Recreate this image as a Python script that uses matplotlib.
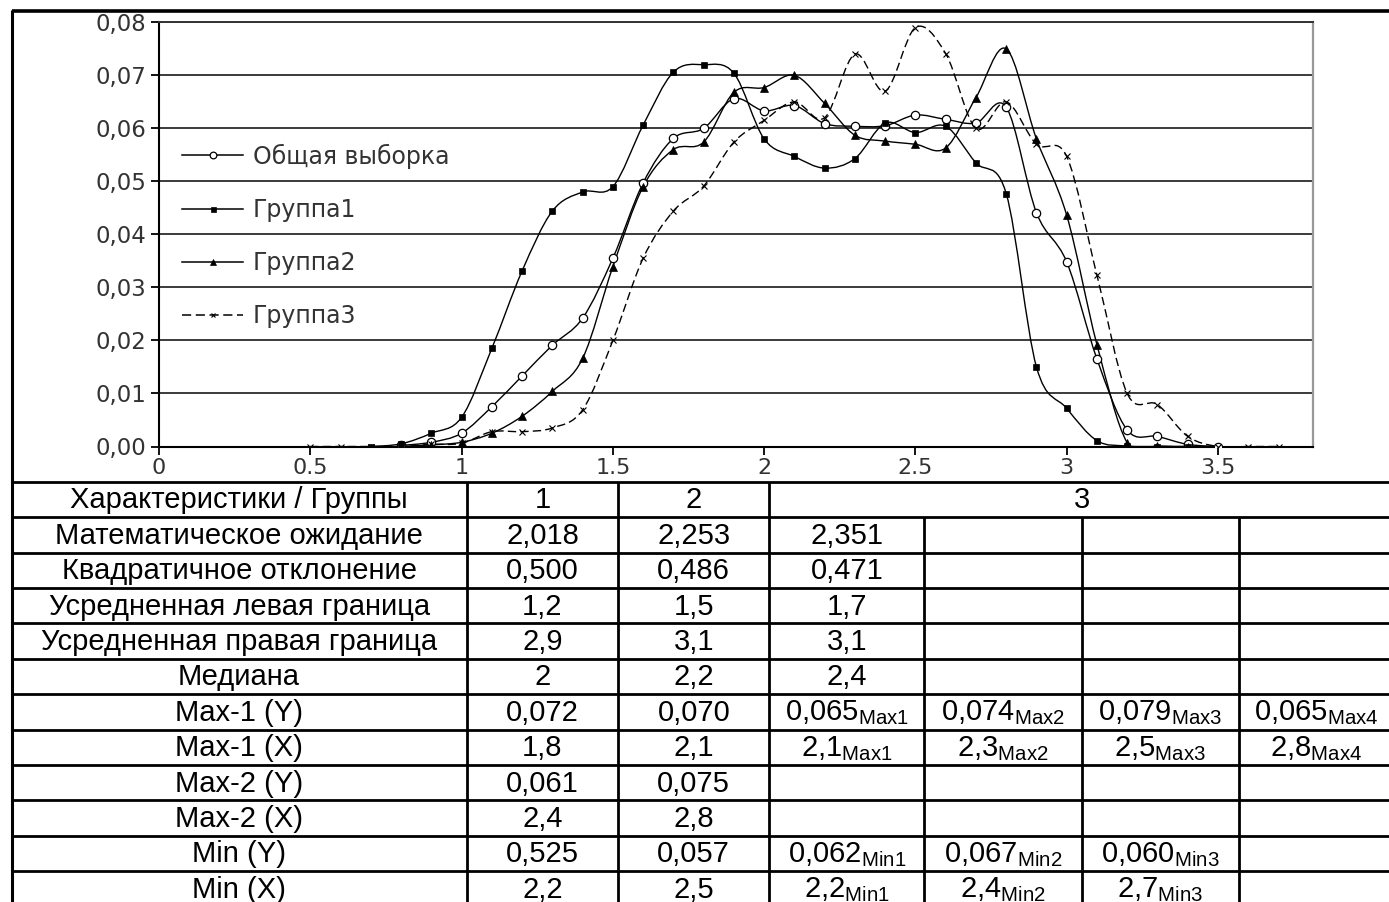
import numpy as np
import matplotlib
matplotlib.use("Agg")
import matplotlib.pyplot as plt
from matplotlib.path import Path
from matplotlib.patches import PathPatch
from matplotlib.lines import Line2D
from matplotlib.ticker import FuncFormatter, MultipleLocator

plt.rcParams['font.family'] = ['Liberation Sans', 'DejaVu Sans']
plt.rcParams['mathtext.fontset'] = 'custom'
plt.rcParams['mathtext.rm'] = 'Liberation Sans'
plt.rcParams['mathtext.it'] = 'Liberation Sans:italic'

# --- distribution curves (x = value, y = share) ---
x_total = [0.8, 0.9, 1.0, 1.1, 1.2, 1.3, 1.4, 1.5, 1.6, 1.7, 1.8, 1.9, 2.0, 2.1, 2.2,
           2.3, 2.4, 2.5, 2.6, 2.7, 2.8, 2.9, 3.0, 3.1, 3.2, 3.3, 3.4, 3.5]
y_total = [0.0002, 0.0008, 0.0025, 0.0075, 0.0133, 0.0191, 0.0242, 0.0355, 0.0497, 0.0581,
           0.0600, 0.0656, 0.0633, 0.0643, 0.0609, 0.0604, 0.0605, 0.0625, 0.0617, 0.0610,
           0.0640, 0.0441, 0.0348, 0.0165, 0.0031, 0.0019, 0.0004, 0.0]

x_g1 = [0.7, 0.8, 0.9, 1.0, 1.1, 1.2, 1.3, 1.4, 1.5, 1.6, 1.7, 1.8, 1.9, 2.0, 2.1,
        2.2, 2.3, 2.4, 2.5, 2.6, 2.7, 2.8, 2.9, 3.0, 3.1, 3.2, 3.3, 3.4]
y_g1 = [0.0, 0.0005, 0.0025, 0.0055, 0.0185, 0.0331, 0.0444, 0.0480, 0.0490, 0.0606,
        0.0706, 0.0720, 0.0704, 0.0580, 0.0547, 0.0525, 0.0543, 0.0610, 0.0592, 0.0604,
        0.0535, 0.0477, 0.0150, 0.0072, 0.0011, 0.0001, 0.0, 0.0]

x_g2 = [0.8, 0.9, 1.0, 1.1, 1.2, 1.3, 1.4, 1.5, 1.6, 1.7, 1.8, 1.9, 2.0, 2.1, 2.2,
        2.3, 2.4, 2.5, 2.6, 2.7, 2.8, 2.9, 3.0, 3.1, 3.2, 3.3, 3.4]
y_g2 = [0.0, 0.0003, 0.0008, 0.0025, 0.0057, 0.0104, 0.0166, 0.0339, 0.0490, 0.0560,
        0.0574, 0.0668, 0.0677, 0.0700, 0.0647, 0.0587, 0.0576, 0.0570, 0.0563, 0.0658,
        0.0750, 0.0580, 0.0436, 0.0192, 0.0007, 0.0001, 0.0]

x_g3 = [0.5, 0.6, 0.7, 0.8, 0.9, 1.0, 1.1, 1.2, 1.3, 1.4, 1.5, 1.6, 1.7, 1.8, 1.9,
        2.0, 2.1, 2.2, 2.3, 2.4, 2.5, 2.6, 2.7, 2.8, 2.9, 3.0, 3.1, 3.2, 3.3, 3.4,
        3.5, 3.6, 3.7]
y_g3 = [0.0, 0.0, 0.0, 0.0, 0.0004, 0.0006, 0.0028, 0.0028, 0.0035, 0.0069, 0.0200,
        0.0355, 0.0444, 0.0491, 0.0574, 0.0615, 0.0650, 0.0620, 0.0740, 0.0670, 0.0790,
        0.0741, 0.0600, 0.0650, 0.0570, 0.0547, 0.0323, 0.0100, 0.0079, 0.0019, 0.0,
        0.0, 0.0]

series_names = ["Общая выборка", "Группа1", "Группа2", "Группа3"]

# --- characteristics table ---
row_labels = ["Характеристики / Группы", "Математическое ожидание", "Квадратичное отклонение",
              "Усредненная левая граница", "Усредненная правая граница", "Медиана",
              "Max-1 (Y)", "Max-1 (X)", "Max-2 (Y)", "Max-2 (X)", "Min (Y)", "Min (X)"]
group_headers = ["1", "2", "3"]
col_g1 = ["2,018", "0,500", "1,2", "2,9", "2", "0,072", "1,8", "0,061", "2,4", "0,525", "2,2"]
col_g2 = ["2,253", "0,486", "1,5", "3,1", "2,2", "0,070", "2,1", "0,075", "2,8", "0,057", "2,5"]
cols_g3 = [
    ["2,351", "", "", ""],
    ["0,471", "", "", ""],
    ["1,7", "", "", ""],
    ["3,1", "", "", ""],
    ["2,4", "", "", ""],
    ["0,065|Max1", "0,074|Max2", "0,079|Max3", "0,065|Max4"],
    ["2,1|Max1", "2,3|Max2", "2,5|Max3", "2,8|Max4"],
    ["", "", "", ""],
    ["", "", "", ""],
    ["0,062|Min1", "0,067|Min2", "0,060|Min3", ""],
    ["2,2|Min1", "2,4|Min2", "2,7|Min3", ""],
]


def smooth_path(xs, ys):
    """Bezier path through the points (Catmull-Rom style smoothing)."""
    pts = np.column_stack([xs, ys])
    n = len(pts)
    verts = [pts[0]]
    codes = [Path.MOVETO]
    for i in range(n - 1):
        p0 = pts[max(i - 1, 0)]
        p1 = pts[i]
        p2 = pts[i + 1]
        p3 = pts[min(i + 2, n - 1)]
        verts += [p1 + (p2 - p0) / 6, p2 - (p3 - p1) / 6, p2]
        codes += [Path.CURVE4] * 3
    return Path(verts, codes)


W, H = 1389, 902
fig = plt.figure(figsize=(W / 100, H / 100), dpi=100)

# table / frame layer in pixel coordinates
tax = fig.add_axes([0, 0, 1, 1])
tax.set_xlim(0, W)
tax.set_ylim(H, 0)
tax.set_axis_off()

# chart
ax = fig.add_axes([159 / W, 1 - 446.5 / H, (1313 - 159) / W, (446.5 - 22.3) / H])
ax.set_xlim(0, 3.814)
ax.set_ylim(0, 0.08)

styles = [
    dict(marker='o', ms=6, mfc='white', mec='black', mew=0.9, ls='-'),
    dict(marker='s', ms=4.5, mfc='black', mec='black', mew=0.5, ls='-'),
    dict(marker='^', ms=5.5, mfc='black', mec='black', mew=0.5, ls='-'),
    dict(marker='x', ms=4, mfc='black', mec='black', mew=0.8, ls=(0, (6, 3))),
]
data = [(x_total, y_total), (x_g1, y_g1), (x_g2, y_g2), (x_g3, y_g3)]

handles = []
for (xs, ys), st, name in zip(data, styles, series_names):
    ax.add_patch(PathPatch(smooth_path(xs, ys), facecolor='none', edgecolor='black',
                           lw=1.0, ls=st['ls'], zorder=3))
    ax.plot(xs, ys, ls='none', marker=st['marker'], ms=st['ms'], mfc=st['mfc'],
            mec=st['mec'], mew=st['mew'], zorder=4)
    handles.append(Line2D([], [], color='black', lw=1.1, ls=st['ls'], marker=st['marker'],
                          ms=st['ms'] * 0.8, mfc=st['mfc'], mec=st['mec'], mew=st['mew']))

ax.yaxis.set_major_locator(MultipleLocator(0.01))
ax.xaxis.set_major_locator(MultipleLocator(0.5))
ax.yaxis.set_major_formatter(FuncFormatter(lambda v, _: f"{v:.2f}".replace('.', ',')))
ax.xaxis.set_major_formatter(FuncFormatter(lambda v, _: f"{v:g}"))
ax.grid(axis='y', color='#1a1a1a', lw=1.2)
ax.set_axisbelow(True)
for side in ['left', 'bottom']:
    ax.spines[side].set_color('black')
    ax.spines[side].set_linewidth(1.5)
ax.spines['top'].set_color('#333333')
ax.spines['top'].set_linewidth(1.4)
ax.spines['right'].set_color('#999999')
ax.spines['right'].set_linewidth(1.6)
ax.tick_params(axis='both', direction='out', length=6, width=1.3, color='black',
               labelsize=16, labelcolor='#333333')
ax.tick_params(axis='y', pad=3, labelsize=16.5)
ax.tick_params(axis='x', pad=2)
for lbl in ax.get_xticklabels() + ax.get_yticklabels():
    lbl.set_family('DejaVu Sans')

leg = ax.legend(handles, series_names, loc='upper left', bbox_to_anchor=(0.02, 0.714),
                frameon=False, prop={'family': 'DejaVu Sans', 'size': 17},
                handlelength=2.6, handletextpad=0.4, labelspacing=1.235,
                borderpad=0, borderaxespad=0)
for t in leg.get_texts():
    t.set_color('#333333')

# outer frame
tax.plot([11.5, W], [11, 11], color='black', lw=2.6, solid_capstyle='butt')
tax.plot([11.5, 11.5], [10, H], color='black', lw=2.2, solid_capstyle='butt')

# table grid
row_top = 481.7
row_h = 35.4
col_x = [11.5, 466.7, 618.3, 769.3, 924.3, 1081.7, 1239.0, 1394.0]
n_rows = len(row_labels)
for k in range(n_rows + 1):
    y = row_top + k * row_h
    tax.plot([11.5, W], [y, y], color='black', lw=2.0, solid_capstyle='butt')
for j, x in enumerate(col_x[1:-1], start=1):
    y_start = row_top if j <= 3 else row_top + row_h
    tax.plot([x, x], [y_start, row_top + n_rows * row_h], color='black', lw=2.0,
             solid_capstyle='butt')

fs = 21


def cell_text(x, y, s):
    if '|' in s:
        val, sub = s.split('|')
        s = val + r'$_{\mathrm{' + sub + '}}$'
    tax.text(x, y, s, ha='center', va='center', fontsize=fs, color='black')


def center(j):
    return (col_x[j] + col_x[j + 1]) / 2


# header row
yc = row_top + row_h / 2 + 1
cell_text(center(0), yc, row_labels[0])
cell_text(center(1), yc, group_headers[0])
cell_text(center(2), yc, group_headers[1])
cell_text((col_x[3] + col_x[7]) / 2, yc, group_headers[2])

for i in range(1, n_rows):
    yc = row_top + (i + 0.5) * row_h + 1
    cell_text(center(0), yc, row_labels[i])
    cell_text(center(1), yc, col_g1[i - 1])
    cell_text(center(2), yc, col_g2[i - 1])
    for k, s in enumerate(cols_g3[i - 1]):
        if s:
            cell_text(center(3 + k), yc, s)

fig.savefig("out.png", dpi=100)
